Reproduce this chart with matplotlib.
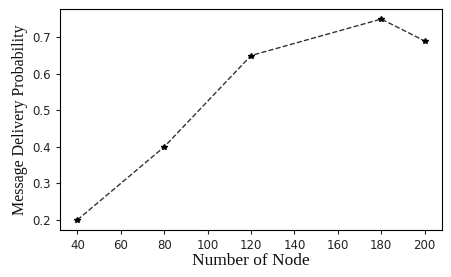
import matplotlib
matplotlib.use("Agg")
import matplotlib.pyplot as plt

nodes = [40, 80, 120, 180, 200]
delivery_prob = [0.20, 0.40, 0.65, 0.75, 0.69]
xticks = [40, 60, 80, 100, 120, 140, 160, 180, 200]
yticks = [0.2, 0.3, 0.4, 0.5, 0.6, 0.7]

fig = plt.figure(figsize=(4.52, 2.77), dpi=100)
ax = fig.add_axes([0.1327, 0.1697, 0.8453, 0.7978])
ax.plot(nodes, delivery_prob, linestyle='--', color='#333333', linewidth=1.0,
        marker='*', markersize=4, markerfacecolor='black', markeredgecolor='black')
ax.set_xticks(xticks)
ax.set_yticks(yticks)
ax.set_yticklabels([f"{v:.1f}" for v in yticks])
ax.tick_params(labelsize=8.5, colors='#222222', length=3)
ax.set_xlabel("Number of Node", family="Liberation Serif", fontsize=12.5, color='#111111', labelpad=1)
ax.set_ylabel("Message Delivery Probability", family="Liberation Serif", fontsize=11.5, color='#111111', labelpad=3)
fig.savefig("out.png", dpi=100)
